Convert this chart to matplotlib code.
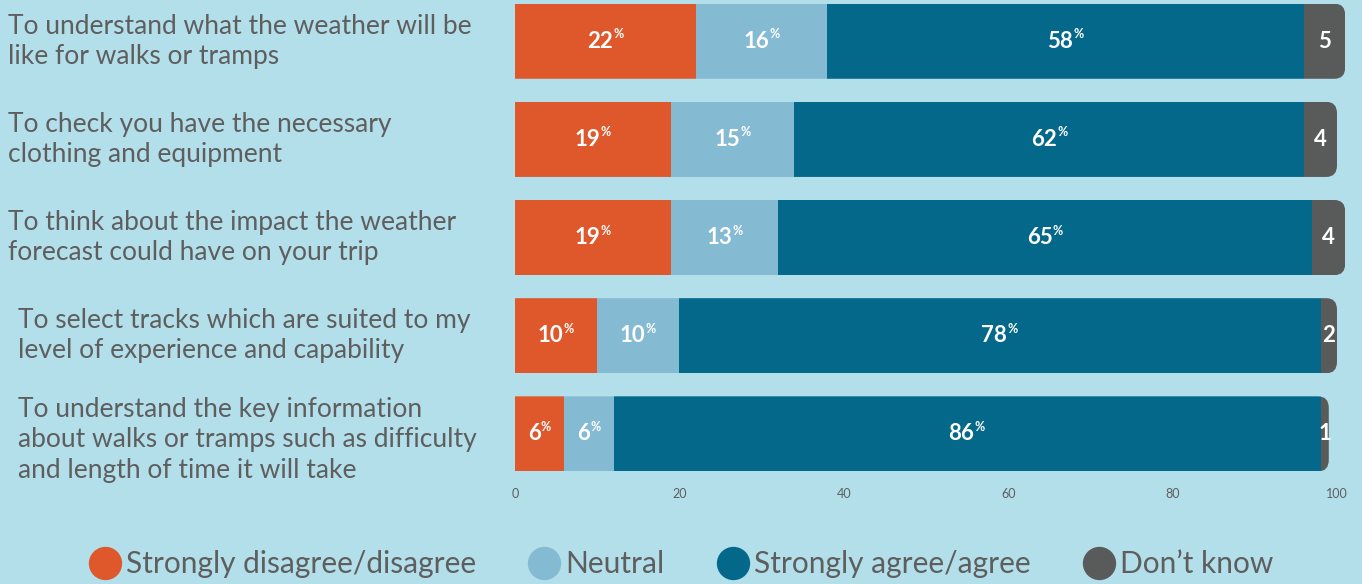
import matplotlib
matplotlib.use("Agg")
import matplotlib.pyplot as plt
from matplotlib.patches import FancyBboxPatch
from matplotlib.lines import Line2D
from matplotlib.transforms import blended_transform_factory
import numpy as np

questions = [
    "To understand what the weather will be\nlike for walks or tramps",
    "To check you have the necessary\nclothing and equipment",
    "To think about the impact the weather\nforecast could have on your trip",
    "To select tracks which are suited to my\nlevel of experience and capability",
    "To understand the key information\nabout walks or tramps such as difficulty\nand length of time it will take",
]
disagree = [22, 19, 19, 10, 6]
neutral = [16, 15, 13, 10, 6]
agree = [58, 62, 65, 78, 86]
dont_know = [5, 4, 4, 2, 1]
series_names = ["Strongly disagree/disagree", "Neutral", "Strongly agree/agree", "Don\u2019t know"]
x_ticks = [0, 20, 40, 60, 80, 100]

colors = ["#DE582B", "#84BAD2", "#04688A", "#595A5A"]
bg = "#B3DFEA"
txt = "#5E5E5E"
FONT = "Lato"

W, H = 1362, 584
fig = plt.figure(figsize=(W / 100, H / 100), dpi=100, facecolor=bg)
unit = 8.22
x0 = 515
xmax = 101.6
ax = fig.add_axes([x0 / W, 1 - 481 / H, unit * xmax / W, 481 / H])
ax.set_facecolor(bg)
ax.set_xlim(0, xmax)
ax.set_ylim(4.48, -0.42)

y = np.arange(len(questions))
h = 0.765
series = [disagree, neutral, agree, dont_know]
totals = np.sum(np.array(series, dtype=float), axis=0)
left = np.zeros(len(questions))
for si, vals in enumerate(series):
    vals = np.array(vals, dtype=float)
    bars = ax.barh(y, vals, left=left, height=h, color=colors[si], linewidth=0)
    for i, b in enumerate(bars):
        clip = FancyBboxPatch((-10, y[i] - h / 2), totals[i] + 10, h,
                              boxstyle="round,pad=0,rounding_size=1.3",
                              mutation_aspect=0.09, transform=ax.transData)
        b.set_clip_path(clip)
        cx = left[i] + vals[i] / 2
        if si < 3:
            t = ax.annotate(f"{int(vals[i])}", xy=(cx, y[i]), xytext=(-4, 0),
                            textcoords="offset points", ha="center", va="center",
                            color="white", fontsize=16, fontweight="bold", family=FONT)
            ax.annotate("%", xy=(1.0, 0.55), xycoords=t, xytext=(0.3, 0),
                        textcoords="offset points", ha="left", va="bottom",
                        color="white", fontsize=9, fontweight="bold", family=FONT)
        else:
            ax.text(cx, y[i], f"{int(vals[i])}", ha="center", va="center",
                    color="white", fontsize=16, fontweight="bold", family=FONT)
    left = left + vals

for s in ax.spines.values():
    s.set_visible(False)
ax.set_yticks([])
ax.set_xticks(x_ticks)
ax.set_xticklabels([str(v) for v in x_ticks], fontsize=9, color=txt, family=FONT)
ax.tick_params(axis="x", length=0, pad=5)

trans = blended_transform_factory(fig.transFigure, ax.transData)
indents = [8, 8, 8, 18, 18]
label_dy = [0, 0, 0, 0, 0.06]
for i, q in enumerate(questions):
    ax.text(indents[i] / W, y[i] + label_dy[i], q, transform=trans, ha="left", va="center",
            fontsize=19, color=txt, family=FONT, fontweight="normal",
            linespacing=1.27)

handles = [Line2D([], [], marker="o", linestyle="none", markersize=24,
                  markerfacecolor=c, markeredgewidth=0) for c in colors]
leg = fig.legend(handles, series_names, loc="center", bbox_to_anchor=(0.5, 1 - 564 / H),
                 ncol=4, frameon=False, handletextpad=0.15, columnspacing=1.75,
                 handlelength=1.1,
                 prop={"family": FONT, "size": 21.5, "weight": "normal"})
for t in leg.get_texts():
    t.set_color(txt)

fig.savefig("out.png", dpi=100, facecolor=bg)
